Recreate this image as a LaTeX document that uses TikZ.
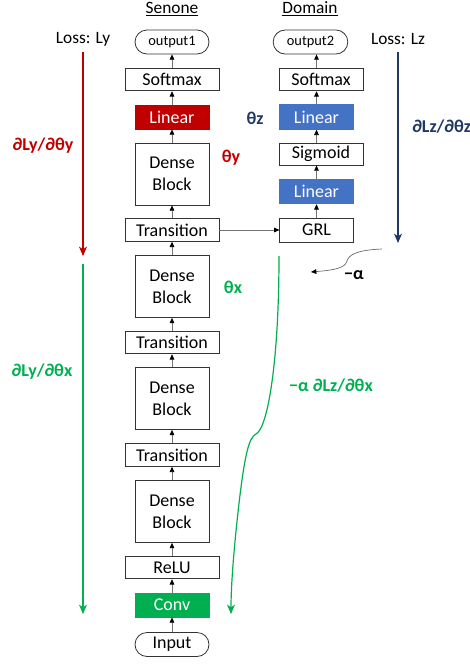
\documentclass[tikz,border=0pt]{standalone}
\usepackage{fontspec}
\setmainfont{Carlito}
\usetikzlibrary{arrows.meta}
\definecolor{cred}{HTML}{C00000}
\definecolor{cblue}{HTML}{4472C4}
\definecolor{cnavy}{HTML}{1F3864}
\definecolor{cgreen}{HTML}{00B050}
\tikzset{
  box/.style={draw=black!80, line width=0.6pt, inner sep=0pt, align=center, font=\fontsize{13.5}{15}\selectfont},
  wbox/.style={box, minimum width=70.5pt, minimum height=17pt},
  nbox/.style={box, minimum width=55.5pt, minimum height=18pt},
  dbox/.style={box, minimum width=55.5pt, minimum height=46.5pt, font=\fontsize{13.5}{16.5}\selectfont},
  redbox/.style={nbox, fill=cred, draw=cred, text=white},
  bluebox/.style={box, fill=cblue, draw=cblue, text=white, minimum width=56pt, minimum height=18.5pt},
  greenbox/.style={nbox, fill=cgreen, draw=cgreen, text=white},
  pill/.style={box, rounded corners=9pt, minimum height=18pt},
  flow/.style={draw=black!55, line width=0.5pt, -{Triangle[length=4pt,width=3.5pt,color=black]}},
  grad/.style={line width=0.9pt, -{Stealth[length=7pt,width=6pt,inset=2pt]}},
  lbl/.style={font=\bfseries\fontsize{13.5}{15}\selectfont, inner sep=0pt},
  plain/.style={font=\fontsize{13}{15}\selectfont, inner sep=0pt},
}
\begin{document}
\begin{tikzpicture}[x=0.75pt,y=-0.75pt]
\useasboundingbox (0,0) rectangle (470,664);
\clip (0,0) rectangle (470,664);
% headers
\node[plain] (senone) at (172,9) {\underline{Senone}};
\node[plain] (domain) at (310,9) {\underline{Domain}};
\node[plain] (lossy) at (83,39) {Loss: Ly};
\node[plain] (lossz) at (398,39) {Loss: Lz};
% Senone column
\node[pill, minimum width=55.5pt, font=\fontsize{10.8}{12}\selectfont] (out1) at (172,42) {output1};
\node[wbox] (soft1) at (172,79.5) {Softmax};
\node[redbox] (lin1) at (172,117) {Linear};
\node[dbox] (db1) at (172,174) {Dense\\Block};
\node[wbox] (tr1) at (172,230) {Transition};
\node[dbox] (db2) at (172,286.5) {Dense\\Block};
\node[wbox] (tr2) at (172,342.5) {Transition};
\node[dbox] (db3) at (172,398.5) {Dense\\Block};
\node[wbox] (tr3) at (172,455) {Transition};
\node[dbox] (db4) at (172,511.5) {Dense\\Block};
\node[wbox] (relu) at (172,567.5) {ReLU};
\node[greenbox] (conv) at (172,605) {Conv};
\node[pill, minimum width=55.5pt] (inp) at (172,644.5) {Input};
% Domain column
\node[pill, minimum width=56pt, font=\fontsize{10.8}{12}\selectfont] (out2) at (310.5,42) {output2};
\node[box, minimum width=63pt, minimum height=17pt] (soft2) at (321,79.5) {Softmax};
\node[bluebox] (lin2) at (316.5,117) {Linear};
\node[box, minimum width=63pt, minimum height=16.5pt] (sig) at (321,154) {Sigmoid};
\node[bluebox] (lin3) at (316.5,191.5) {Linear};
\node[box, minimum width=55pt, minimum height=18pt] (grl) at (316.5,230) {GRL};
% flow arrows
\draw[flow] (inp.north) -- (conv.south);
\draw[flow] (conv.north) -- (relu.south);
\draw[flow] (relu.north) -- (db4.south);
\draw[flow] (db4.north) -- (tr3.south);
\draw[flow] (tr3.north) -- (db3.south);
\draw[flow] (db3.north) -- (tr2.south);
\draw[flow] (tr2.north) -- (db2.south);
\draw[flow] (db2.north) -- (tr1.south);
\draw[flow] (tr1.north) -- (db1.south);
\draw[flow] (db1.north) -- (lin1.south);
\draw[flow] (lin1.north) -- (soft1.south);
\draw[flow] (soft1.north) -- (out1.south);
\draw[flow] (tr1.east) -- (grl.west);
\draw[flow] (grl.north) -- (lin3.south);
\draw[flow] (lin3.north) -- (lin3.north |- sig.south);
\draw[flow] (lin3.north |- sig.north) -- (lin2.south);
\draw[flow] (lin2.north) -- (lin2.north |- soft2.south);
\draw[flow] (lin2.north |- soft2.north) -- (out2.south -| lin2.north);
% theta labels
\node[lbl, text=cred] (ty) at (231,158) {θy};
\node[lbl, text=cnavy] (tz) at (255,118) {θz};
\node[lbl, text=cgreen] (tx) at (233,287) {θx};
% gradient arrows
\coordinate (ry0) at (83,52);
\coordinate (ry1) at (83,256);
\draw[grad, cred] (ry0) -- (ry1);
\node[lbl, text=cred] (gyy) at (43,146) {∂Ly/∂θy};
\coordinate (gx0) at (83,264);
\coordinate (gx1) at (83,614);
\draw[grad, cgreen] (gx0) -- (gx1);
\node[lbl, text=cgreen] (gyx) at (42,372) {∂Ly/∂θx};
\coordinate (bz0) at (398,52);
\coordinate (bz1) at (398,243);
\draw[grad, cnavy] (bz0) -- (bz1);
\node[lbl, text=cnavy, anchor=west] (gzz) at (412,127) {∂Lz/∂θz};
% reversal
\coordinate (a0) at (382,249);
\coordinate (a1) at (311,272);
\draw[black!60, line width=0.5pt, -{Triangle[length=4pt,width=3.5pt,color=black]}] (a0) .. controls (356,250) and (349,255) .. (347,261) .. controls (345,268) and (335,270) .. (a1);
\node[lbl] (alpha) at (354,275) {−α};
\coordinate (c0) at (279,256);
\coordinate (c1) at (256,434);
\coordinate (c2) at (231,614);
\draw[grad, cgreen] (c0) .. controls (279,360) and (268,428) .. (c1) .. controls (249,437) and (245,455) .. (240,495) .. controls (234,545) and (231,585) .. (c2);
\node[lbl, text=cgreen] (gzx) at (331,386) {−α ∂Lz/∂θx};
\end{tikzpicture}
\end{document}
